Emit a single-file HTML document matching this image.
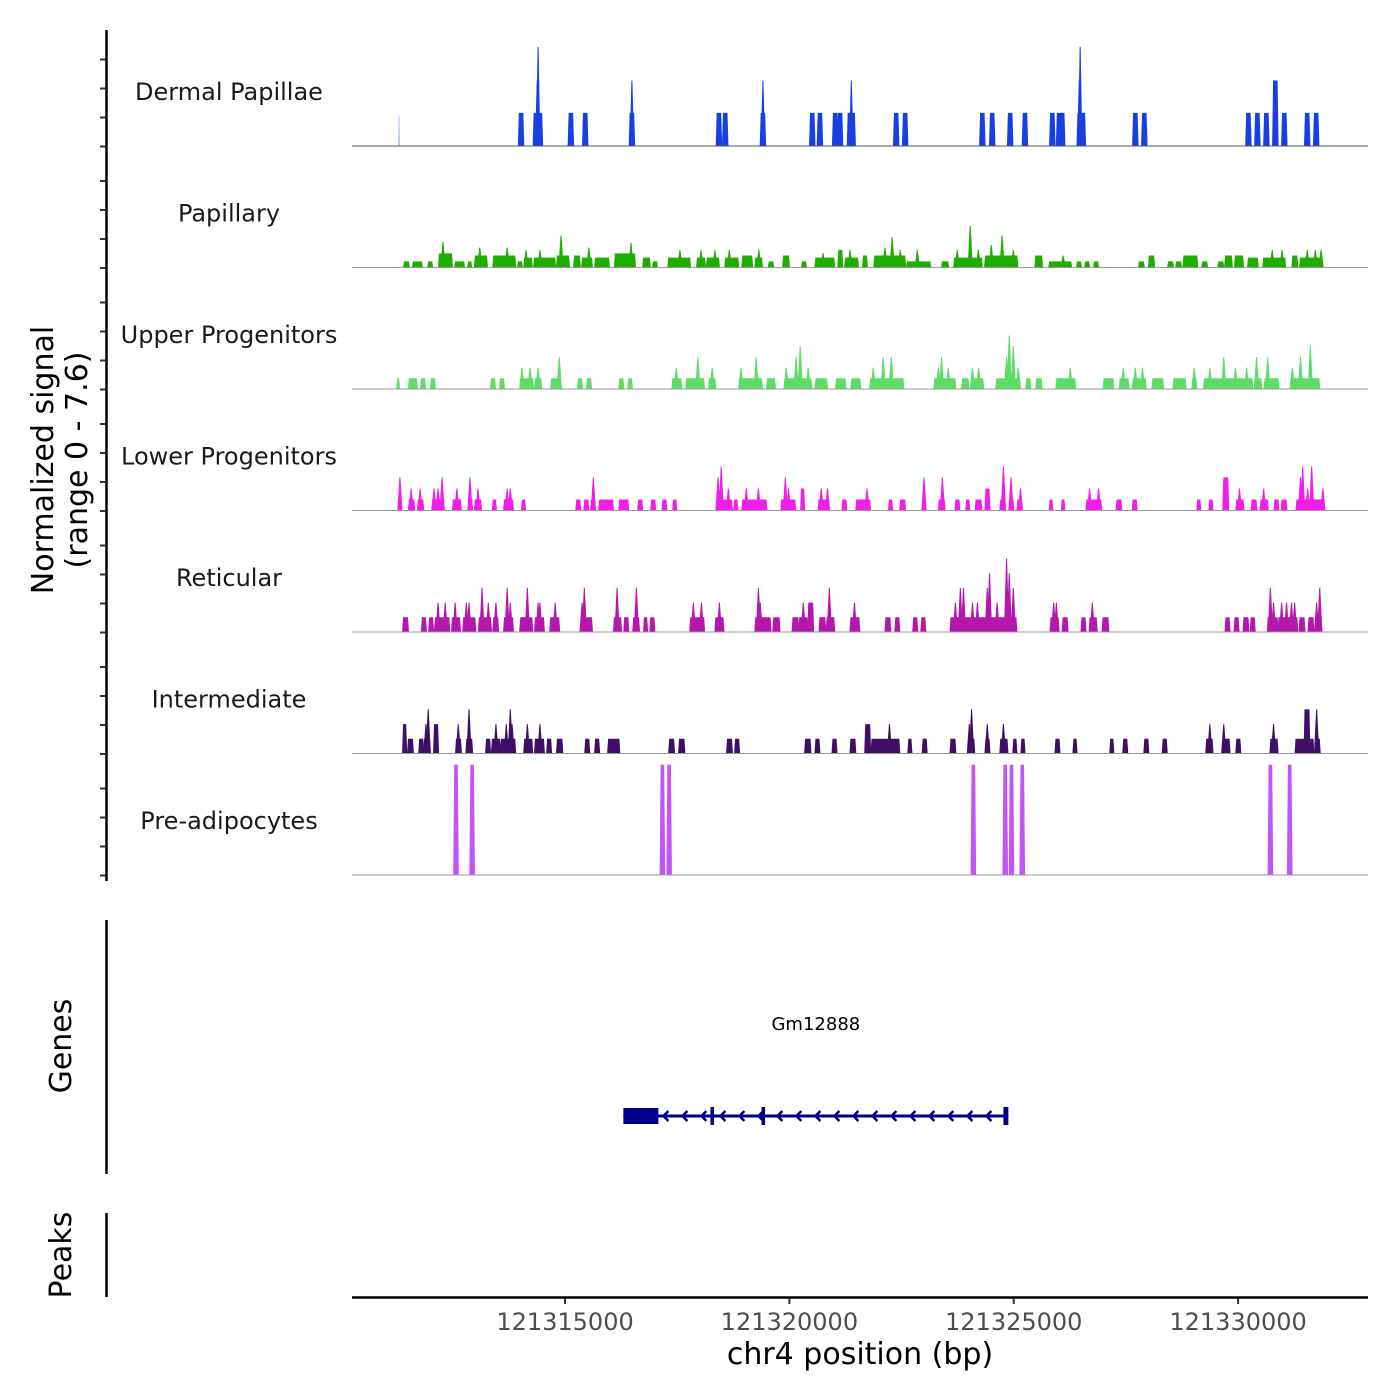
<!DOCTYPE html>
<html><head><meta charset="utf-8">
<style>
html,body{margin:0;padding:0;background:#fff;}
svg{display:block;font-family:"DejaVu Sans","Liberation Sans",sans-serif;}
</style></head>
<body>
<svg id="chart" width="1400" height="1400" viewBox="0 0 1400 1400" xmlns="http://www.w3.org/2000/svg">
  <rect x="0" y="0" width="1400" height="1400" fill="#fff"/>
  <g id="tracks"></g>
  <g id="yaxis"></g>
  <g transform="translate(53,460) rotate(-90)">
    <text x="0" y="0" text-anchor="middle" font-size="30" fill="#000">Normalized signal</text>
    <text x="0" y="34" text-anchor="middle" font-size="30" fill="#000">(range 0 - 7.6)</text>
  </g>
  <line x1="106.5" y1="920" x2="106.5" y2="1174" stroke="#000" stroke-width="2.5"/>
  <text transform="translate(71,1046) rotate(-90)" text-anchor="middle" font-size="30" fill="#000">Genes</text>
  <line x1="106.5" y1="1213" x2="106.5" y2="1297" stroke="#000" stroke-width="2.5"/>
  <text transform="translate(71,1255) rotate(-90)" text-anchor="middle" font-size="30" fill="#000">Peaks</text>
  <g id="genes"></g>
  <g id="xaxis"></g>
  <text x="860" y="1364" text-anchor="middle" font-size="30" fill="#000">chr4 position (bp)</text>
</svg>
<script>
// positions in kb offset from 121310000
const regionStartKb = 0.252;
const regionEndKb = 22.895;
const xTickValues = [121315000, 121320000, 121325000, 121330000];
const xTickLabels = ["121315000", "121320000", "121325000", "121330000"];
const trackNames = ["Dermal Papillae","Papillary","Upper Progenitors","Lower Progenitors","Reticular","Intermediate","Pre-adipocytes"];
const trackColors = ["#1a3fe0","#1fae00","#5ddc68","#f01ee8","#b416ae","#3e0f64","#c056f5"];
const signalMax = 7.6;

const dermalSegs = [[3.97,4.07,2.07],[4.30,4.49,2.07],[5.08,5.18,2.07],[5.40,5.50,2.07],[6.44,6.54,2.07],[8.38,8.48,2.07],[8.52,8.62,2.07],[9.36,9.46,2.07],[10.46,10.56,2.07],[10.63,10.73,2.07],[10.97,11.07,2.07],[11.08,11.18,2.07],[11.30,11.46,2.07],[12.33,12.43,2.07],[12.53,12.63,2.07],[14.25,14.35,2.07],[14.47,14.57,2.07],[14.87,14.97,2.07],[15.20,15.30,2.07],[15.81,15.91,2.07],[15.96,16.13,2.07],[16.42,16.59,2.07],[17.66,17.76,2.07],[17.86,17.96,2.07],[20.18,20.28,2.07],[20.38,20.48,2.07],[20.58,20.68,2.07],[20.78,20.88,4.1],[20.98,21.08,2.07],[21.49,21.59,2.07],[21.69,21.79,2.07]];
const dermalPeaks = [[1.30,1.9],[4.38,4.1],[4.40,6.2],[6.49,4.1],[9.41,4.1],[11.38,4.1],[16.46,4.1],[16.48,6.2]];

const papillarySegs = [[1.41,1.52,.38],[1.61,1.81,.38],[1.95,2.04,.38],[2.19,2.48,.88],[2.55,2.75,.38],[2.84,2.91,.38],[2.99,3.26,.75],[3.40,3.89,.75],[3.95,4.04,.38],[4.09,4.26,.62],[4.31,4.78,.62],[4.82,5.09,.75],[5.20,5.33,.75],[5.38,5.60,.62],[5.67,5.98,.62],[6.11,6.56,.88],[6.74,6.89,.62],[6.96,7.05,.38],[7.30,7.79,.62],[7.94,8.12,.62],[8.16,8.43,.62],[8.57,8.86,.62],[8.95,9.17,.75],[9.24,9.39,.62],[9.54,9.64,.38],[9.86,9.99,.75],[10.28,10.37,.38],[10.58,11.00,.62],[11.09,11.18,1.1],[11.24,11.53,.62],[11.64,11.73,.75],[11.89,12.58,.75],[12.62,13.14,.38],[13.40,13.54,.38],[13.67,14.29,.62],[14.36,15.08,.75],[15.48,15.63,.75],[15.79,16.28,.38],[16.41,16.50,.38],[16.59,16.68,.38],[16.79,16.88,.38],[17.79,17.90,.38],[18.01,18.13,.75],[18.44,18.55,.38],[18.62,18.73,.38],[18.78,19.09,.75],[19.20,19.31,.38],[19.56,19.67,.38],[19.71,19.86,.75],[19.93,20.11,.75],[20.22,20.44,.62],[20.56,21.05,.62],[21.21,21.32,.75],[21.38,21.87,.62]];
const papillaryPeaks = [[2.28,1.6],[3.10,1.25],[3.71,1.25],[4.13,1.1],[4.44,1.1],[4.91,2.0],[5.53,1.25],[6.47,1.55],[7.56,1.1],[8.03,1.1],[8.34,1.1],[8.66,1.1],[9.32,1.1],[10.75,.9],[11.35,1.1],[12.13,1.25],[12.29,1.9],[12.47,1.1],[12.85,1.1],[13.74,1.1],[14.03,2.6],[14.21,1.1],[14.50,1.4],[14.74,2.0],[14.99,1.1],[16.10,.75],[20.76,1.1],[20.98,1.1],[21.54,1.1],[21.72,1.1],[21.85,1.1]];

const upperSegs = [[1.26,1.30,.67],[1.52,1.70,.67],[1.79,1.88,.67],[2.01,2.10,.67],[3.35,3.44,.67],[3.55,3.64,.67],[4.00,4.29,.67],[4.33,4.47,.67],[4.69,4.91,.67],[5.29,5.38,.67],[5.49,5.58,.67],[6.21,6.30,.67],[6.41,6.49,.67],[7.39,7.59,.67],[7.70,8.10,.67],[8.21,8.35,.67],[8.88,9.39,.67],[9.50,9.68,.67],[9.89,10.49,.67],[10.58,10.84,.67],[11.04,11.25,.67],[11.38,11.58,.67],[11.80,12.54,.67],[13.23,13.70,.67],[13.85,13.99,.67],[14.06,14.32,.67],[14.61,15.14,.67],[15.28,15.37,.67],[15.50,15.62,.67],[15.95,16.37,.67],[17.00,17.22,.67],[17.36,17.56,.67],[17.65,17.94,.67],[18.09,18.33,.67],[18.56,18.83,.67],[18.98,19.07,.67],[19.24,20.32,.67],[20.37,20.52,.67],[20.59,20.90,.67],[21.17,21.81,.67]];
const upperPeaks = [[4.04,1.34],[4.22,1.34],[4.40,1.34],[4.87,2.0],[7.48,1.34],[7.96,2.0],[8.28,1.34],[8.92,1.34],[9.26,2.0],[9.93,1.34],[10.15,2.0],[10.24,2.7],[10.42,1.34],[11.87,1.34],[12.09,2.0],[12.27,2.0],[13.32,1.34],[13.39,2.0],[13.54,1.34],[14.08,1.34],[14.22,1.34],[14.84,2.0],[14.90,3.35],[14.99,2.7],[15.10,1.34],[16.26,1.34],[17.44,1.34],[17.71,1.34],[17.87,1.34],[19.02,1.34],[19.37,1.34],[19.68,2.0],[19.94,1.34],[20.19,1.34],[20.41,2.0],[20.66,2.0],[21.21,1.34],[21.39,2.0],[21.61,2.7]];

const lowerSegs = [[1.52,1.64,.69],[1.72,1.84,.69],[2.04,2.30,.69],[2.50,2.68,.69],[2.86,2.93,.69],[2.99,3.13,.69],[3.39,3.46,.69],[3.64,3.84,.69],[4.04,4.11,.69],[5.25,5.34,.69],[5.43,5.52,.69],[5.58,5.67,.69],[5.76,6.07,.69],[6.21,6.41,.69],[6.63,6.72,.69],[6.92,7.01,.69],[7.17,7.26,.69],[7.41,7.48,.69],[8.39,8.72,.69],[8.77,8.84,.69],[8.95,9.49,.69],[9.82,10.13,.69],[10.26,10.33,1.38],[10.65,10.87,.69],[11.18,11.27,.69],[11.49,11.80,.69],[12.22,12.29,.69],[12.47,12.58,.69],[12.97,13.03,.69],[13.33,13.46,.69],[13.70,13.79,.69],[13.94,14.01,.69],[14.15,14.28,.69],[14.37,14.46,1.38],[14.70,14.81,.69],[14.90,14.99,.69],[15.08,15.17,.69],[15.80,15.86,.69],[16.07,16.13,.69],[16.62,16.95,.69],[17.29,17.40,.69],[17.65,17.74,.69],[19.09,19.16,.69],[19.36,19.43,.69],[19.67,19.78,2.07],[19.96,20.12,.69],[20.30,20.41,.69],[20.50,20.66,.69],[20.81,20.90,.69],[20.97,21.08,.69],[21.30,21.86,.69],[21.88,21.92,.69]];
const lowerPeaks = [[1.32,2.07],[1.57,1.38],[1.77,1.38],[2.08,1.38],[2.17,1.38],[2.26,2.07],[2.59,1.38],[2.88,2.07],[3.06,1.38],[3.71,1.38],[3.78,1.38],[5.63,2.07],[8.41,2.07],[8.48,2.76],[8.64,1.38],[9.04,1.38],[9.31,1.38],[9.91,2.07],[9.98,1.38],[10.71,1.38],[10.85,1.38],[11.73,1.38],[13.00,2.07],[13.41,2.07],[14.77,2.76],[14.94,2.07],[15.15,1.38],[16.69,1.38],[16.89,1.38],[20.03,1.38],[20.57,1.38],[21.39,2.07],[21.44,2.76],[21.55,1.38],[21.64,2.76],[21.89,1.38]];

const reticularSegs = [[1.39,1.50,.92],[1.81,1.90,.92],[1.97,2.06,.92],[2.10,2.42,.92],[2.48,2.66,.92],[2.73,3.00,.92],[3.08,3.35,.92],[3.40,3.51,.92],[3.64,3.84,.92],[4.00,4.27,.92],[4.33,4.53,.92],[4.67,4.87,.92],[5.36,5.60,.92],[6.09,6.25,.92],[6.32,6.41,.92],[6.52,6.65,.92],[6.76,6.83,.92],[6.90,6.99,.92],[7.79,8.10,.92],[8.35,8.53,.92],[9.24,9.58,.92],[9.64,9.78,.92],[10.07,10.20,.92],[10.22,10.40,.92],[10.42,10.53,1.84],[10.67,10.80,.92],[10.83,11.00,.92],[11.36,11.56,.92],[12.14,12.25,.92],[12.36,12.45,.92],[12.76,12.85,.92],[12.94,13.03,.92],[13.59,15.06,.92],[15.82,16.00,.92],[16.09,16.20,.92],[16.51,16.60,.92],[16.69,16.85,.92],[16.98,17.11,.92],[19.72,19.81,.92],[19.92,20.01,.92],[20.12,20.23,.92],[20.28,20.37,.92],[20.66,20.88,.92],[20.90,21.32,.92],[21.37,21.48,.92],[21.57,21.68,.92],[21.73,21.86,.92]];
const reticularPeaks = [[2.17,1.84],[2.33,1.84],[2.55,1.84],[2.80,1.84],[2.86,1.84],[3.15,2.76],[3.29,1.84],[3.46,1.84],[3.71,2.76],[3.78,1.84],[4.16,2.76],[4.40,1.84],[4.44,1.84],[4.78,1.84],[5.38,1.84],[5.43,2.76],[6.16,2.76],[6.59,2.76],[7.86,1.84],[8.04,1.84],[8.44,1.84],[9.31,2.76],[9.35,1.84],[10.31,1.84],[10.89,2.76],[11.45,1.84],[13.70,1.84],[13.81,2.76],[13.88,2.76],[14.08,1.84],[14.19,1.84],[14.41,2.76],[14.46,3.68],[14.63,1.84],[14.84,4.6],[14.90,3.68],[14.99,2.76],[15.89,1.84],[15.95,1.84],[16.75,1.84],[20.72,2.76],[20.79,1.84],[20.97,1.84],[21.08,1.84],[21.19,1.84],[21.26,1.84],[21.75,1.84],[21.82,2.76]];

const intermediateSegs = [[1.39,1.46,1.84],[1.50,1.61,.92],[1.75,1.84,.92],[1.86,1.99,.92],[2.08,2.17,1.84],[2.57,2.68,.92],[2.80,2.93,.92],[3.24,3.33,.92],[3.37,3.55,.92],[3.57,3.89,.92],[4.09,4.27,.92],[4.33,4.53,.92],[4.60,4.69,.92],[4.82,4.94,.92],[5.45,5.54,.92],[5.67,5.76,.92],[5.96,6.21,.92],[7.32,7.43,.92],[7.54,7.66,.92],[8.61,8.72,.92],[8.79,8.88,.92],[10.35,10.47,.92],[10.58,10.67,.92],[10.96,11.05,.92],[11.36,11.47,.92],[11.69,11.80,1.84],[11.83,12.45,.92],[12.65,12.72,.92],[12.97,13.06,.92],[13.59,13.70,.92],[13.99,14.12,.92],[14.37,14.46,.92],[14.70,14.86,.92],[14.99,15.06,.92],[15.17,15.24,.92],[15.93,16.02,.92],[16.33,16.40,.92],[17.15,17.22,.92],[17.44,17.53,.92],[17.91,18.00,.92],[18.32,18.41,.92],[19.29,19.43,.92],[19.65,19.81,.92],[19.96,20.05,.92],[20.72,20.88,.92],[21.28,21.48,.92],[21.48,21.59,2.76],[21.61,21.68,.92],[21.73,21.82,.92]];
const intermediatePeaks = [[1.90,1.84],[1.95,2.76],[2.62,1.84],[2.86,2.76],[3.46,1.84],[3.69,1.84],[3.78,2.76],[3.82,1.84],[4.16,1.84],[4.44,1.84],[12.23,1.84],[14.01,1.84],[14.06,2.76],[14.41,1.84],[14.77,1.84],[19.37,1.84],[19.68,1.84],[20.79,1.84],[21.75,2.76]];

const preadipoSegs = [[2.53,2.61,6.9],[2.89,2.97,6.9],[7.13,7.21,6.9],[7.28,7.36,6.9],[14.06,14.14,6.9],[14.77,14.85,6.9],[14.91,14.99,6.9],[15.15,15.23,6.9],[20.68,20.76,6.9],[21.11,21.19,6.9]];
const preadipoPeaks = [];

const geneStartKb = 6.30, geneEndKb = 14.88;
const geneExons = [[6.30,7.08],[8.24,8.29],[9.38,9.43],[14.77,14.88]];
const geneThickExons = [[6.30,7.08]];

const allSegs = [dermalSegs, papillarySegs, upperSegs, lowerSegs, reticularSegs, intermediateSegs, preadipoSegs];
const allPeaks = [dermalPeaks, papillaryPeaks, upperPeaks, lowerPeaks, reticularPeaks, intermediatePeaks, preadipoPeaks];

const NS = "http://www.w3.org/2000/svg";
const plotLeft = 352, plotRight = 1368;
const trackTop0 = 24.5, trackH = 121.5;
function xScale(kb){ return plotLeft + (kb - regionStartKb) / (regionEndKb - regionStartKb) * (plotRight - plotLeft); }
function bpToX(bp){ return xScale((bp - 121310000) / 1000); }
function baseY(i){ return trackTop0 + trackH * (i + 1); }
function yScale(i, v){ return baseY(i) - v / signalMax * trackH; }
function mk(tag, attrs, parent){
  const e = document.createElementNS(NS, tag);
  for (const k in attrs) e.setAttribute(k, attrs[k]);
  parent.appendChild(e);
  return e;
}

const tracksG = document.getElementById('tracks');
trackNames.forEach((name, i) => {
  const g = mk('g', {}, tracksG);
  
  
  const b = baseY(i);
  allSegs[i].forEach(s => {
    const x1 = xScale(s[0]), x2 = xScale(s[1]), t = yScale(i, s[2]);
    const p = mk('polygon', {points: `${x1-1},${b} ${x1},${t} ${x2},${t} ${x2+1},${b}`, fill: trackColors[i]}, g);
    
    
  });
  allPeaks[i].forEach(pk => {
    const x = xScale(pk[0]), t = yScale(i, pk[1]);
    const faint = (i === 0 && pk[0] < 2);
    const hw = faint ? 1 : (i === 0 ? 2.2 : 2.6);
    const p = mk('polygon', {points: `${x-hw},${b} ${x-0.5},${t} ${x+0.5},${t} ${x+hw},${b}`, fill: trackColors[i], 'fill-opacity': faint ? 0.3 : 1}, g);
    
    
  });
  const bl = mk('line', {x1: plotLeft, x2: plotRight, y1: b, y2: b, stroke: i === 0 ? '#555' : '#9a9a9a', 'stroke-width': 1}, g);
  
  
  const lab = mk('text', {x: 229, y: b - 46, 'text-anchor': 'middle', 'font-size': 24, fill: '#1a1a1a'}, g);
  lab.textContent = name;
  
  
});

const yG = document.getElementById('yaxis');
const ya = mk('line', {x1: 106.5, x2: 106.5, y1: 30, y2: 881, stroke: '#000', 'stroke-width': 2.5}, yG);


for (let i = 0; i < trackNames.length; i++) {
  [0, 29, 58, 87].forEach(off => {
    const y = baseY(i) - off + 0.5;
    const t = mk('line', {x1: 100, x2: 106, y1: y, y2: y, stroke: '#333', 'stroke-width': 2}, yG);
    
    
  });
}

const gG = document.getElementById('genes');
const gy = 1116;
const gl = mk('line', {x1: xScale(geneStartKb), x2: xScale(geneEndKb), y1: gy, y2: gy, stroke: '#00008b', 'stroke-width': 3}, gG);


for (let x = xScale(geneStartKb) + 40; x < xScale(geneEndKb) - 4; x += 19) {
  const c = mk('polyline', {points: `${x+5},${gy-5} ${x},${gy} ${x+5},${gy+5}`, fill: 'none', stroke: '#00008b', 'stroke-width': 2.5}, gG);
  
  
}
geneExons.forEach(e => {
  const thick = geneThickExons.some(t => t[0] === e[0]);
  const h = thick ? 16 : 18;
  const r = mk('rect', {x: xScale(e[0]), y: gy - h/2, width: Math.max(3.5, xScale(e[1]) - xScale(e[0])), height: h, fill: '#00008b'}, gG);
  
  
});
const gn = mk('text', {x: (xScale(geneStartKb) + xScale(geneEndKb)) / 2, y: 1030, 'text-anchor': 'middle', 'font-size': 18, fill: '#000'}, gG);
gn.textContent = 'Gm12888';



const xG = document.getElementById('xaxis');
const xl = mk('line', {x1: plotLeft, x2: plotRight, y1: 1297.5, y2: 1297.5, stroke: '#000', 'stroke-width': 2.5}, xG);


xTickValues.forEach((v, i) => {
  const x = bpToX(v);
  const t = mk('line', {x1: x, x2: x, y1: 1298, y2: 1304, stroke: '#333', 'stroke-width': 2}, xG);
  
  
  const lb = mk('text', {x: x, y: 1330, 'text-anchor': 'middle', 'font-size': 24, fill: '#4d4d4d'}, xG);
  lb.textContent = xTickLabels[i];
  
  
});
</script>
</body></html>
